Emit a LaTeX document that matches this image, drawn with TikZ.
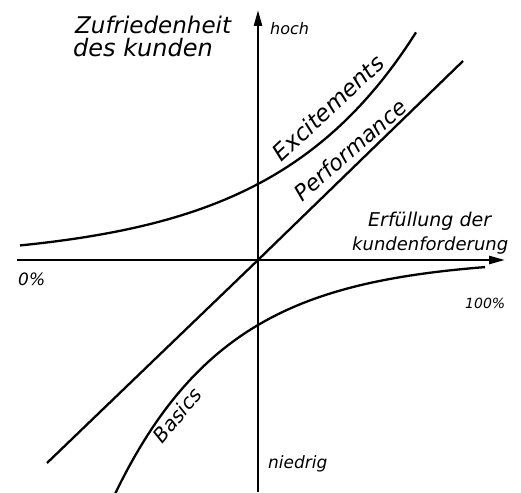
\documentclass[tikz,border=0pt]{standalone}
\usepackage{fontspec}
\newfontfamily\handfont{DejaVu Sans}
\usetikzlibrary{arrows.meta}
\tikzset{
  achse/.style={
    line width=2.5pt,
    -{Triangle[length=16pt,width=8pt]}
  },
  kurve/.style={
    line width=2.3pt
  },
  schrift/.style={
    inner sep=0pt,
    font=\handfont\itshape\fontsize{#1}{#1}\selectfont
  },
  schrift/.default=18
}

\begin{document}
\begin{tikzpicture}[x=1pt,y=-1pt]
\useasboundingbox (0,0) rectangle (521,492);
% Achsen
\coordinate (ursprung) at (258,260);
\coordinate (links) at (17,260);
\coordinate (rechts) at (505,260);
\coordinate (unten) at (258,492);
\coordinate (oben) at (258,10);
\draw[achse] (links) -- (rechts);
\draw[achse] (unten) -- (oben);
% Kurven
\coordinate (perfunten) at (47,463);
\coordinate (perfoben) at (463,61);
\draw[kurve] (perfunten) -- (ursprung) -- (perfoben);
\draw[kurve] plot[domain=20:416,samples=60] (\x,{260-76*exp(0.00695*(\x-258))});
\draw[kurve] plot[domain=115:485,samples=60] (\x,{258+67*exp(-0.0088*(\x-258))});
% Beschriftung
\node[schrift=23,anchor=base west] (zufrieden) at (75,34) {Zufriedenheit};
\node[schrift=24,anchor=base west] (kunden) at (73,57) {des kunden};
\node[schrift=16,anchor=base west] (hoch) at (270,35) {hoch};
\node[schrift=17,anchor=base west] (niedrig) at (268,468) {niedrig};
\node[schrift=19,anchor=base west] (erfuellung) at (368,226) {Erfüllung der};
\node[schrift=18,anchor=base west] (forderung) at (352,250) {kundenforderung};
\node[schrift=17,anchor=base west] (null) at (18,285) {0\%};
\node[schrift=14,anchor=base west] (hundert) at (465,308) {100\%};
\node[schrift=23,rotate=43] (excite) at (328,108) {Excitements};
\node[schrift=22,rotate=41] (perf) at (350,150) {Performance};
\node[schrift=20,rotate=50] (basics) at (177,415) {Basics};
\end{tikzpicture}
\end{document}
